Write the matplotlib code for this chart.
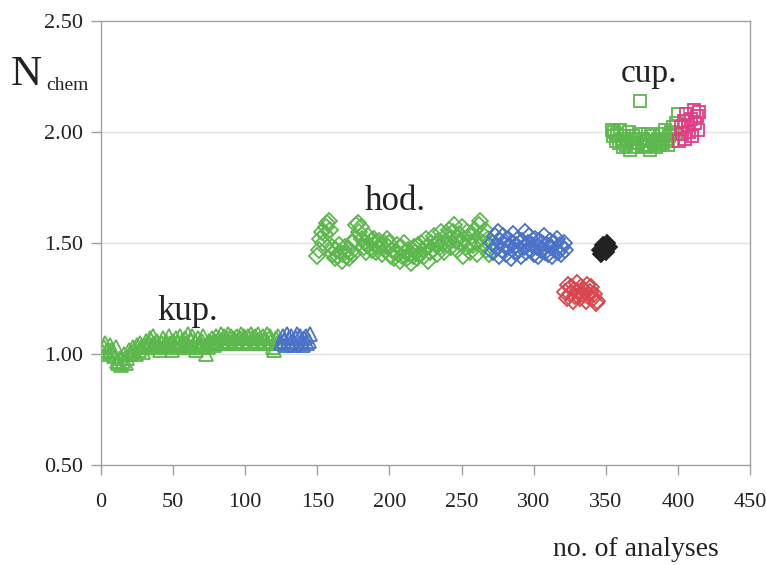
import matplotlib.pyplot as plt
import numpy as np

plt.rcParams["font.family"] = ["Liberation Serif", "DejaVu Serif"]

# ---------------------------------------------------------------------------
# Data: N_chem per analysis, grouped by mineral / colour.
# ---------------------------------------------------------------------------
kup_green_start = 1
kup_green = [1.01, 1.03, 1.05, 1.02, 1.00, 1.04, 1.02, 1.01, 0.99, 1.03,
             0.97, 0.96, 0.98, 0.95, 0.97, 1.00, 0.96, 0.98, 1.02, 1.00,
             1.01, 1.03, 1.02, 1.00, 1.04, 1.02, 1.05, 1.03, 1.01, 1.04,
             1.06, 1.03, 1.05, 1.07, 1.04, 1.08, 1.05, 1.03, 1.06, 1.04,
             1.02, 1.05, 1.07, 1.04, 1.06, 1.03, 1.08, 1.05, 1.02, 1.06,
             1.04, 1.07, 1.05, 1.03, 1.08, 1.06, 1.04, 1.07, 1.05, 1.09,
             1.03, 1.06, 1.08, 1.04, 1.06, 1.02, 1.07, 1.05, 1.03, 1.06,
             1.08, 1.04, 1.00, 1.03, 1.06, 1.05, 1.07, 1.04, 1.06, 1.08,
             1.05, 1.07, 1.09, 1.06, 1.08, 1.05, 1.07, 1.09, 1.06, 1.08,
             1.05, 1.07, 1.06, 1.08, 1.05, 1.07, 1.09, 1.06, 1.08, 1.07,
             1.05, 1.08, 1.06, 1.09, 1.07, 1.05, 1.08, 1.06, 1.09, 1.07,
             1.05, 1.08, 1.06, 1.07, 1.09, 1.05, 1.08, 1.06, 1.03, 1.02,
             1.07, 1.05, 1.08, 1.06]

kup_blue_start = 125
kup_blue = [1.05, 1.08, 1.06, 1.04, 1.09, 1.07, 1.05, 1.08, 1.06, 1.04,
            1.07, 1.09, 1.05, 1.08, 1.06, 1.04, 1.07, 1.08, 1.05, 1.06, 1.09]

hod_green_start = 150
hod_green = [1.44, 1.47, 1.52, 1.55, 1.50, 1.54, 1.57, 1.59,
             1.60, 1.56, 1.48, 1.45, 1.43, 1.47, 1.44, 1.49, 1.46, 1.42, 1.45, 1.48, 1.44,
             1.47, 1.43, 1.46, 1.50, 1.45, 1.52, 1.58, 1.59, 1.55, 1.57, 1.52, 1.48, 1.50, 1.46, 1.53,
             1.49, 1.51, 1.47, 1.52, 1.50, 1.46, 1.48, 1.51, 1.49, 1.45, 1.50, 1.47, 1.52, 1.48, 1.50,
             1.44, 1.47, 1.43, 1.46, 1.49, 1.45, 1.42, 1.48, 1.44, 1.50,
             1.46, 1.43, 1.47, 1.45, 1.41, 1.44, 1.48, 1.46, 1.43, 1.49,
             1.45, 1.50, 1.47, 1.44, 1.52, 1.48, 1.42, 1.46, 1.50, 1.47,
             1.53, 1.49, 1.45, 1.51, 1.48, 1.55, 1.50, 1.46, 1.53, 1.49,
             1.56, 1.52, 1.48, 1.55, 1.58, 1.51, 1.47, 1.54, 1.50, 1.57, 1.44, 1.52, 1.48, 1.55, 1.50,
             1.46, 1.53, 1.49, 1.56, 1.51, 1.45, 1.58, 1.60, 1.54, 1.50, 1.56, 1.47, 1.52, 1.45, 1.49]

hod_blue_start = 271
hod_blue = [1.50, 1.46, 1.53, 1.48, 1.55, 1.44, 1.51, 1.47, 1.53, 1.49,
            1.45, 1.52, 1.48, 1.43, 1.50, 1.54, 1.46, 1.49, 1.52, 1.47,
            1.44, 1.51, 1.48, 1.55, 1.46, 1.50, 1.53, 1.47, 1.49, 1.45,
            1.52, 1.48, 1.44, 1.51, 1.47, 1.50, 1.53, 1.46, 1.49, 1.45,
            1.51, 1.48, 1.44, 1.50, 1.47, 1.52, 1.46, 1.49, 1.45, 1.48,
            1.50, 1.47]

hod_red_start = 322
hod_red = [1.28, 1.25, 1.31, 1.27, 1.30, 1.24, 1.29, 1.26, 1.32, 1.28,
           1.25, 1.30, 1.27, 1.29, 1.24, 1.31, 1.26, 1.28, 1.30, 1.25,
           1.27, 1.23, 1.24]

hod_black_start = 346
hod_black = [1.47, 1.45, 1.49, 1.48, 1.46, 1.50, 1.48]

cup_green_start = 354
cup_green = [2.01, 1.98, 2.00, 1.96, 1.99, 1.95, 2.01, 1.97, 1.93, 1.98,
             1.94, 1.96, 2.00, 1.92, 1.95, 1.98, 1.93, 1.97, 1.95, 1.99,
             2.14, 1.94, 1.97, 1.93, 1.96, 1.99, 1.94, 1.92, 1.96, 1.98,
             1.95, 1.93, 1.97, 1.94, 1.96, 1.99, 1.95, 2.01, 1.97, 1.94,
             1.98, 2.00, 1.96, 2.02, 1.99, 2.04, 2.08]

cup_pink_start = 401
cup_pink = [1.96, 2.02, 1.99, 2.05, 1.97, 2.08, 2.03, 2.00, 2.06, 1.98,
            2.10, 2.04, 2.07, 2.01, 2.09]

GREEN = "#5cb84c"
BLUE = "#4a72c8"
RED = "#d9464e"
PINK = "#e23c86"

series = [
    (kup_green_start, kup_green, "^", GREEN, "none"),
    (kup_blue_start, kup_blue, "^", BLUE, "none"),
    (hod_green_start, hod_green, "D", GREEN, "none"),
    (hod_blue_start, hod_blue, "D", BLUE, "none"),
    (hod_red_start, hod_red, "D", RED, "none"),
    (hod_black_start, hod_black, "D", "#222222", "#222222"),
    (cup_green_start, cup_green, "s", GREEN, "none"),
    (cup_pink_start, cup_pink, "s", PINK, "none"),
]
marker_size = {"^": 10, "D": 8, "s": 9}

fig = plt.figure(figsize=(7.66, 5.65), dpi=100)
ax = fig.add_axes([0.132, 0.177, 0.847, 0.786])

for start, yv, mk, col, fc in series:
    x = np.arange(start, start + len(yv))
    ax.plot(x, yv, ls="none", marker=mk, ms=marker_size[mk], mec=col, mfc=fc, mew=1.3)

ax.set_xlim(0, 450)
ax.set_ylim(0.5, 2.5)
ax.set_xticks(np.arange(0, 451, 50))
ax.set_yticks(np.arange(0.5, 2.51, 0.5))
ax.set_yticklabels(["%.2f" % v for v in np.arange(0.5, 2.51, 0.5)])

for s in ax.spines.values():
    s.set_color("#a0a0a0")
    s.set_linewidth(1.0)
ax.tick_params(axis="both", colors="#a0a0a0", labelcolor="#222222", width=1.0)
ax.tick_params(axis="x", direction="out", length=7, pad=13, labelsize=16)
ax.tick_params(axis="y", direction="out", length=7, pad=6, labelsize=16)

for g in [1.0, 1.5, 2.0]:
    ax.axhline(g, color="#e2e2e2", lw=1.0, zorder=0)

ax.text(60, 1.155, "kup.", fontsize=25, color="#222222", ha="center", va="baseline")
ax.text(204, 1.65, "hod.", fontsize=25, color="#222222", ha="center", va="baseline")
ax.text(380, 2.225, "cup.", fontsize=24, color="#222222", ha="center", va="baseline")

fig.text(0.014, 0.85, "N", fontsize=31, color="#222222", ha="left", va="baseline")
fig.text(0.061, 0.84, "chem", fontsize=14, color="#222222", ha="left", va="baseline")
fig.text(0.722, 0.016, "no. of analyses", fontsize=20, color="#222222", ha="left", va="baseline")

fig.savefig("out.png", dpi=100)
